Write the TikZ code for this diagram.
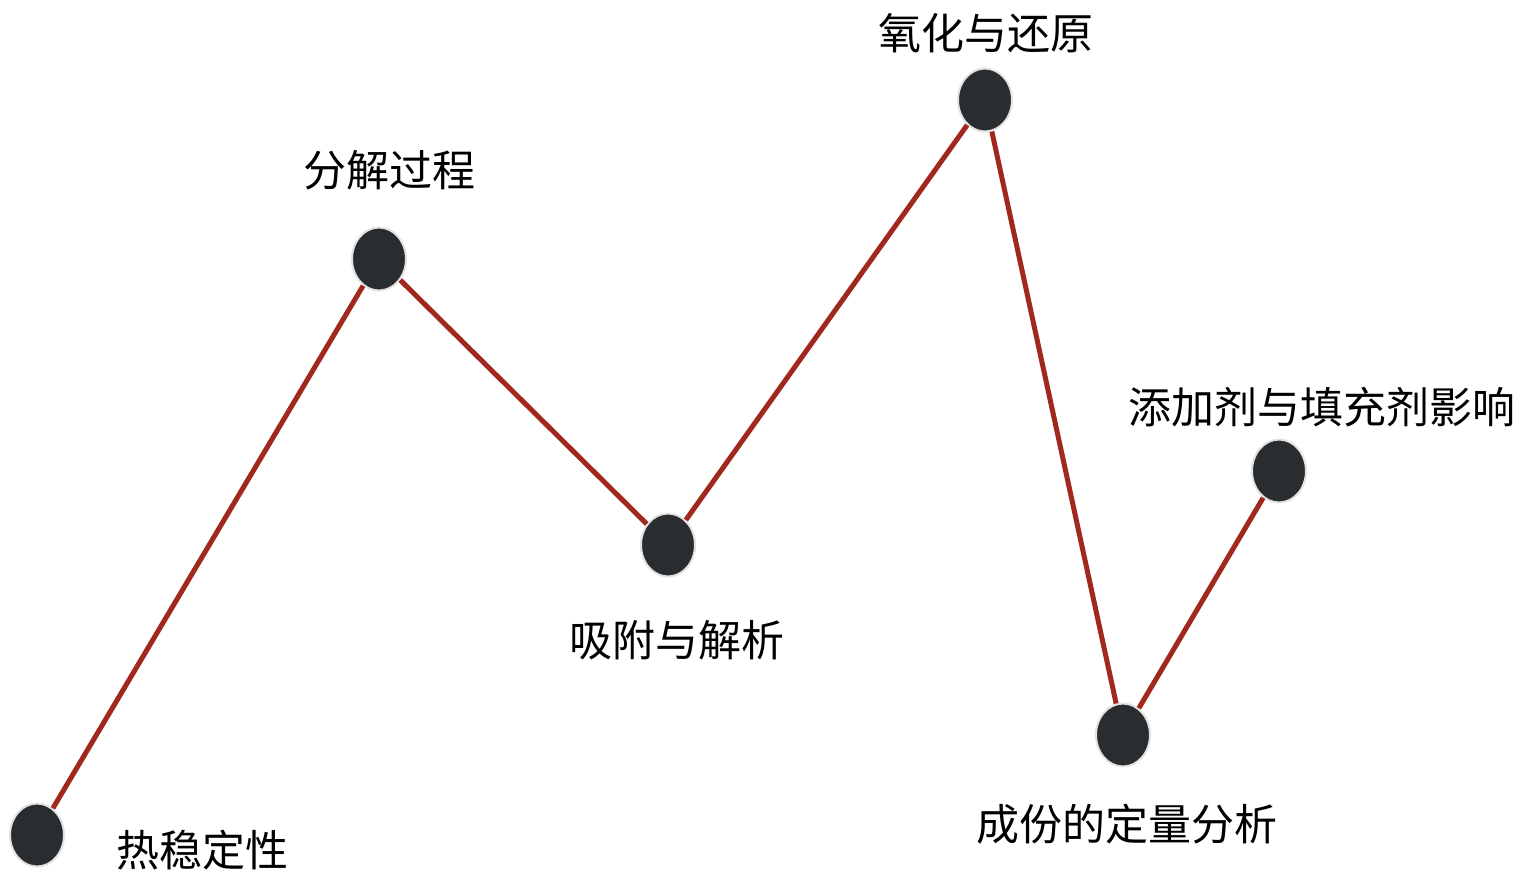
\documentclass[tikz,border=0pt]{standalone}
\usepackage{fontspec}
\newfontfamily\cjk{Noto Sans CJK SC}
\usetikzlibrary{shapes.geometric}
\definecolor{dotfill}{HTML}{2A2D30}
\definecolor{dotrim}{HTML}{E2E2E2}
\definecolor{linkred}{HTML}{A0281C}
\tikzset{
  dot/.style={ellipse, fill=dotfill, draw=dotrim, line width=2pt, minimum width=54pt, minimum height=63pt, inner sep=0pt},
  lbl/.style={inner sep=0pt, font=\cjk\fontsize{43}{50}\selectfont, text=black},
  link/.style={draw=linkred, line width=5pt}
}
\begin{document}
\begin{tikzpicture}[x=1pt,y=-1pt]
\useasboundingbox (0,0) rectangle (1518,871);
\node[dot] (n1) at (37,835) {};
\node[dot] (n2) at (379,259) {};
\node[dot] (n3) at (668,545) {};
\node[dot] (n4) at (985,100) {};
\node[dot] (n5) at (1123,735) {};
\node[dot] (n6) at (1279,471) {};
\draw[link] (n1) -- (n2);
\draw[link] (n2) -- (n3);
\draw[link] (n3) -- (n4);
\draw[link] (n4) -- (n5);
\draw[link] (n5) -- (n6);
\node[lbl] (t1) at (202.5,850) {热稳定性};
\node[lbl] (t2) at (389,170) {分解过程};
\node[lbl] (t3) at (676.5,640) {吸附与解析};
\node[lbl] (t4) at (985.5,33) {氧化与还原};
\node[lbl] (t5) at (1126.5,824) {成份的定量分析};
\node[lbl] (t6) at (1321.5,407) {添加剂与填充剂影响};
\end{tikzpicture}
\end{document}
